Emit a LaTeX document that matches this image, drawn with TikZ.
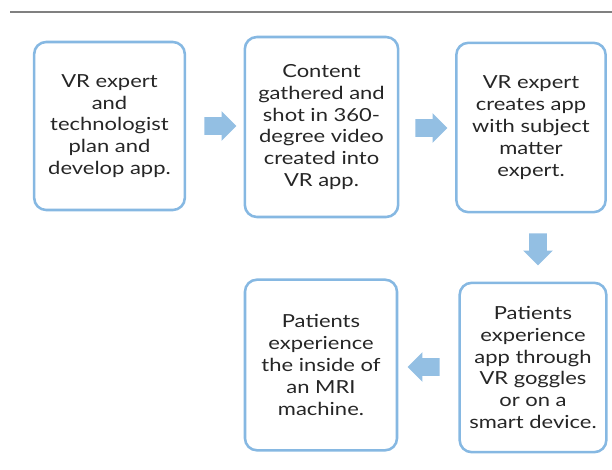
\documentclass[tikz,border=0pt]{standalone}
\usepackage{fontspec}
\setmainfont{Lato}[FakeStretch=1.22]
\usepackage{xcolor}
\usepackage{tikz}
\usetikzlibrary{shapes,arrows,positioning}

\definecolor{boxblue}{HTML}{86B8E2}
\definecolor{arrowblue}{HTML}{93BFE3}

\begin{document}
\begin{tikzpicture}[
  x=0.75pt, y=0.75pt,
  step box/.style={
    rectangle,
    rounded corners=9pt,
    draw=boxblue,
    line width=1.9pt,
    fill=white,
    text=black!85,
    align=center,
    inner sep=2pt,
    font=\fontsize{13.5}{16.4}\selectfont
  },
  flow/.style={
    single arrow,
    draw=none,
    fill=arrowblue,
    minimum height=24pt,
    inner xsep=0pt,
    inner ysep=6.5pt,
    single arrow head extend=4.5pt
  }
]

\useasboundingbox (0,0) rectangle (612,-470);

% --- HEADER RULE ---
\coordinate (rule_start) at (10,-12);
\coordinate (rule_end) at (612,-12);
\draw[gray, line width=1.1pt] (rule_start) -- (rule_end);

% --- TOP ROW ---
\node[step box, minimum width=113pt, minimum height=126pt] (plan) at (109.5,-126) {
    VR expert\\
    and\\
    technologist\\
    plan and\\
    develop app.
};

\node[step box, minimum width=115pt, minimum height=135pt] (content) at (321.5,-127) {
    Content\\
    gathered and\\
    shot in 360-\\
    degree video\\
    created into\\
    VR app.
};

\node[step box, minimum width=112pt, minimum height=127pt] (create) at (531,-127.5) {
    VR expert\\
    creates app\\
    with subject\\
    matter\\
    expert.
};

% --- BOTTOM ROW ---
\node[step box, minimum width=110pt, minimum height=127pt] (goggles) at (533,-367.5) {
    Patients\\
    experience\\
    app through\\
    VR goggles\\
    or on a\\
    smart device.
};

\node[step box, minimum width=114pt, minimum height=128pt] (mri) at (321,-365) {
    Patients\\
    experience\\
    the inside of\\
    an MRI\\
    machine.
};

% --- FLOW ARROWS ---
\node[flow] (arrow_a) at (216,-126) {};
\node[flow] (arrow_b) at (427,-128) {};
\node[flow, rotate=-90] (arrow_c) at (538,-245) {};
\node[flow, rotate=180] (arrow_d) at (428,-367) {};

\end{tikzpicture}
\end{document}
